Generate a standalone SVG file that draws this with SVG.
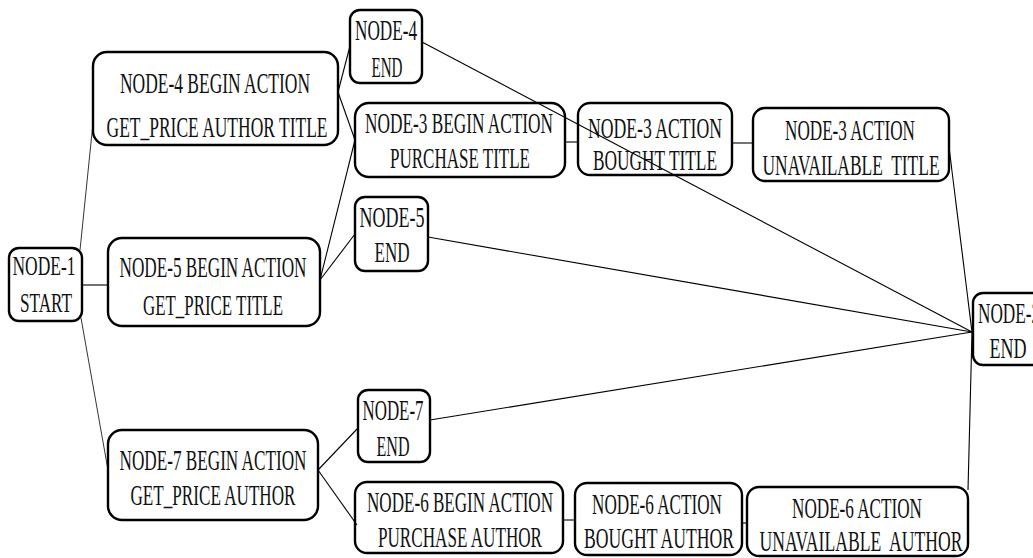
<svg xmlns="http://www.w3.org/2000/svg" width="1033" height="558" viewBox="0 0 1033 558">
  <style>
    .box { fill: #ffffff; stroke: #000000; stroke-width: 2.4; }
    .lbl { font-family: "Liberation Serif", "Times New Roman", serif; font-size: 30px; fill: #111111; text-anchor: middle; }
    .sm { font-size: 27px; }
    .edge { stroke: #000000; stroke-width: 1.1; fill: none; }
    .thin { stroke-width: 0.8; }
  </style>
  <rect width="1033" height="558" fill="#ffffff"/>

  <!-- labels are set in a narrow face: Liberation Serif squeezed horizontally by scale(0.56 1) -->
  <g id="node-1">
    <rect class="box" x="9" y="248" width="73" height="73" rx="10"/>
    <text class="lbl sm" transform="translate(44 275) scale(0.56 1)" textLength="112.5" lengthAdjust="spacingAndGlyphs">NODE-1</text>
    <text class="lbl sm" transform="translate(46 312) scale(0.56 1)" textLength="92.9" lengthAdjust="spacingAndGlyphs">START</text>
  </g>

  <g id="node-4-begin">
    <rect class="box" x="93" y="52" width="245" height="93" rx="14"/>
    <text class="lbl" transform="translate(215 93) scale(0.56 1)" textLength="339.3" lengthAdjust="spacingAndGlyphs">NODE-4 BEGIN ACTION</text>
    <text class="lbl" transform="translate(217 137) scale(0.56 1)" textLength="394.6" lengthAdjust="spacingAndGlyphs">GET_PRICE AUTHOR TITLE</text>
  </g>

  <g id="node-4-end">
    <rect class="box" x="350" y="10" width="72" height="73" rx="10"/>
    <text class="lbl" transform="translate(386 40) scale(0.56 1)" textLength="110.7" lengthAdjust="spacingAndGlyphs">NODE-4</text>
    <text class="lbl" transform="translate(387 77) scale(0.56 1)" textLength="55.4" lengthAdjust="spacingAndGlyphs">END</text>
  </g>

  <g id="node-3-begin">
    <rect class="box" x="355" y="103" width="210" height="74" rx="14"/>
    <text class="lbl" transform="translate(459 133) scale(0.56 1)" textLength="335.7" lengthAdjust="spacingAndGlyphs">NODE-3 BEGIN ACTION</text>
    <text class="lbl" transform="translate(460 168) scale(0.56 1)" textLength="250" lengthAdjust="spacingAndGlyphs">PURCHASE TITLE</text>
  </g>

  <g id="node-3-bought">
    <rect class="box" x="578" y="103" width="154" height="72" rx="12"/>
    <text class="lbl" transform="translate(655 138) scale(0.56 1)" textLength="239.3" lengthAdjust="spacingAndGlyphs">NODE-3 ACTION</text>
    <text class="lbl" transform="translate(655 170) scale(0.56 1)" textLength="221.4" lengthAdjust="spacingAndGlyphs">BOUGHT TITLE</text>
  </g>

  <g id="node-3-unavailable">
    <rect class="box" x="753" y="108" width="196" height="73" rx="12"/>
    <text class="lbl" transform="translate(850 140) scale(0.56 1)" textLength="232.1" lengthAdjust="spacingAndGlyphs">NODE-3 ACTION</text>
    <text class="lbl" transform="translate(851 175) scale(0.56 1)" textLength="316.1" lengthAdjust="spacingAndGlyphs" xml:space="preserve">UNAVAILABLE  TITLE</text>
  </g>

  <g id="node-5-begin">
    <rect class="box" x="108" y="238" width="212" height="88" rx="14"/>
    <text class="lbl" transform="translate(213 277) scale(0.56 1)" textLength="333.9" lengthAdjust="spacingAndGlyphs">NODE-5 BEGIN ACTION</text>
    <text class="lbl" transform="translate(213 315) scale(0.56 1)" textLength="250" lengthAdjust="spacingAndGlyphs">GET_PRICE TITLE</text>
  </g>

  <g id="node-5-end">
    <rect class="box" x="355" y="197" width="73" height="74" rx="10"/>
    <text class="lbl" transform="translate(392 227) scale(0.56 1)" textLength="116.1" lengthAdjust="spacingAndGlyphs">NODE-5</text>
    <text class="lbl" transform="translate(392 262) scale(0.56 1)" textLength="62.5" lengthAdjust="spacingAndGlyphs">END</text>
  </g>

  <g id="node-7-begin">
    <rect class="box" x="108" y="430" width="210" height="90" rx="14"/>
    <text class="lbl" transform="translate(213 470) scale(0.56 1)" textLength="333.9" lengthAdjust="spacingAndGlyphs">NODE-7 BEGIN ACTION</text>
    <text class="lbl" transform="translate(213 505) scale(0.56 1)" textLength="294.6" lengthAdjust="spacingAndGlyphs">GET_PRICE AUTHOR</text>
  </g>

  <g id="node-7-end">
    <rect class="box" x="358" y="390" width="72" height="72" rx="10"/>
    <text class="lbl" transform="translate(393 420) scale(0.56 1)" textLength="108.9" lengthAdjust="spacingAndGlyphs">NODE-7</text>
    <text class="lbl" transform="translate(393 456) scale(0.56 1)" textLength="58.9" lengthAdjust="spacingAndGlyphs">END</text>
  </g>

  <g id="node-6-begin">
    <rect class="box" x="355" y="482" width="208" height="71" rx="12"/>
    <text class="lbl" transform="translate(460 512) scale(0.56 1)" textLength="332.1" lengthAdjust="spacingAndGlyphs">NODE-6 BEGIN ACTION</text>
    <text class="lbl" transform="translate(460 547) scale(0.56 1)" textLength="292.9" lengthAdjust="spacingAndGlyphs">PURCHASE AUTHOR</text>
  </g>

  <g id="node-6-bought">
    <rect class="box" x="575" y="483" width="167" height="72" rx="12"/>
    <text class="lbl" transform="translate(657 514) scale(0.56 1)" textLength="232.1" lengthAdjust="spacingAndGlyphs">NODE-6 ACTION</text>
    <text class="lbl" transform="translate(659 548) scale(0.56 1)" textLength="267.9" lengthAdjust="spacingAndGlyphs">BOUGHT AUTHOR</text>
  </g>

  <g id="node-6-unavailable">
    <rect class="box" x="747" y="487" width="221" height="69" rx="12"/>
    <text class="lbl" transform="translate(857 518) scale(0.56 1)" textLength="232.1" lengthAdjust="spacingAndGlyphs">NODE-6 ACTION</text>
    <text class="lbl" transform="translate(861 551) scale(0.56 1)" textLength="362.5" lengthAdjust="spacingAndGlyphs" xml:space="preserve">UNAVAILABLE  AUTHOR</text>
  </g>

  <g id="node-2-end">
    <rect class="box" x="973" y="293" width="74" height="72" rx="10"/>
    <text class="lbl" transform="translate(1009 323) scale(0.56 1)" textLength="110.7" lengthAdjust="spacingAndGlyphs">NODE-2</text>
    <text class="lbl" transform="translate(1008 358) scale(0.56 1)" textLength="66.1" lengthAdjust="spacingAndGlyphs">END</text>
  </g>

  <!-- connectors drawn last so crossing lines stay visible over the boxes -->
  <g id="connectors">
    <line class="edge thin" x1="80" y1="250" x2="93" y2="123"/>
    <line class="edge" x1="82" y1="285" x2="108" y2="285"/>
    <line class="edge thin" x1="81" y1="318" x2="108" y2="470"/>
    <line class="edge" x1="338" y1="92" x2="350" y2="46"/>
    <line class="edge" x1="338" y1="92" x2="355" y2="140"/>
    <line class="edge" x1="320" y1="280" x2="355" y2="140"/>
    <line class="edge" x1="320" y1="280" x2="355" y2="234"/>
    <line class="edge" x1="565" y1="142" x2="578" y2="142"/>
    <line class="edge" x1="732" y1="143" x2="753" y2="143"/>
    <line class="edge" x1="422" y1="42" x2="972" y2="332"/>
    <line class="edge" x1="428" y1="237" x2="972" y2="332"/>
    <line class="edge" x1="430" y1="420" x2="972" y2="332"/>
    <line class="edge" x1="949" y1="147" x2="972" y2="332"/>
    <line class="edge" x1="968" y1="490" x2="972" y2="332"/>
    <line class="edge" x1="318" y1="470" x2="358" y2="428"/>
    <line class="edge" x1="318" y1="470" x2="357" y2="525"/>
    <line class="edge" x1="563" y1="520" x2="575" y2="520"/>
    <line class="edge" x1="742" y1="523" x2="747" y2="523"/>
  </g>
</svg>
